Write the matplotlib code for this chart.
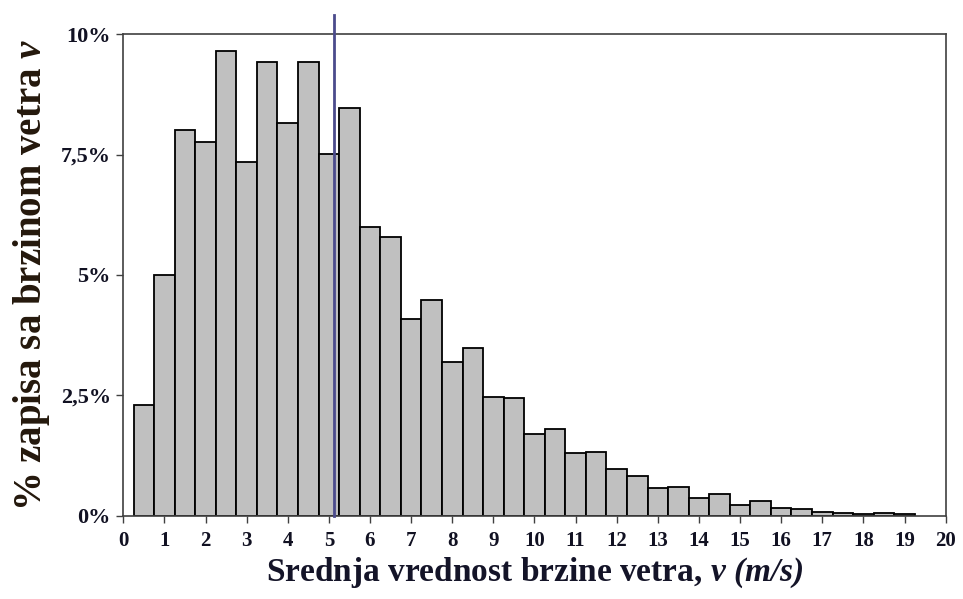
import matplotlib
matplotlib.use('Agg')
import matplotlib.pyplot as plt
from matplotlib.ticker import FuncFormatter

# wind speed bins (m/s) and share of records (%)
speed = [0.5, 1.0, 1.5, 2.0, 2.5, 3.0, 3.5, 4.0, 4.5, 5.0,
         5.5, 6.0, 6.5, 7.0, 7.5, 8.0, 8.5, 9.0, 9.5, 10.0,
         10.5, 11.0, 11.5, 12.0, 12.5, 13.0, 13.5, 14.0, 14.5, 15.0,
         15.5, 16.0, 16.5, 17.0, 17.5, 18.0, 18.5, 19.0]
share = [2.30, 5.00, 8.00, 7.77, 9.64, 7.34, 9.42, 8.15, 9.42, 7.51,
         8.46, 6.00, 5.78, 4.08, 4.48, 3.19, 3.48, 2.47, 2.44, 1.70,
         1.80, 1.30, 1.33, 0.97, 0.82, 0.58, 0.59, 0.37, 0.46, 0.22,
         0.31, 0.17, 0.14, 0.07, 0.06, 0.035, 0.05, 0.035]
mean_speed = 5.12

plt.rcParams['font.family'] = 'Liberation Serif'
plt.rcParams['font.weight'] = 'bold'
plt.rcParams['mathtext.fontset'] = 'custom'
plt.rcParams['mathtext.rm'] = 'Liberation Serif:bold'
plt.rcParams['mathtext.it'] = 'Liberation Serif:italic:bold'
plt.rcParams['mathtext.bf'] = 'Liberation Serif:bold'
plt.rcParams['mathtext.bfit'] = 'Liberation Serif:italic:bold'

fig = plt.figure(figsize=(9.63, 5.99), dpi=100)
ax = fig.add_axes([0.128, 0.139, 0.854, 0.804])

ax.bar(speed, share, width=0.5, color='#c0c0c0', edgecolor='black', linewidth=1.3, zorder=2)
ax.axvline(mean_speed, ymin=0, ymax=1.04, color='#4b4b8c', linewidth=2, clip_on=False, zorder=3)

ax.set_xlim(0, 20)
ax.set_ylim(0, 10)
ax.set_xticks(range(0, 21))
ax.set_yticks([0, 2.5, 5, 7.5, 10])
ax.yaxis.set_major_formatter(FuncFormatter(lambda v, p: ('%g%%' % v).replace('.', ',')))

for s in ax.spines.values():
    s.set_color('#404040')
    s.set_linewidth(1.2)
ax.tick_params(axis='both', direction='out', length=5, width=1, color='#404040',
               labelsize=15, labelcolor='#111122')
ax.tick_params(axis='x', pad=6)
ax.tick_params(axis='y', pad=4, labelsize=16)

ax.set_xlabel('Srednja vrednost brzine vetra, $\\mathbfit{v\\ (m/s)}$',
              fontsize=24, fontweight='bold', color='#141428', labelpad=3)
ax.set_ylabel('% zapisa sa brzinom vetra $\\mathbfit{v}$',
              fontsize=28, fontweight='bold', color='#24180c', labelpad=6)

fig.savefig('out.png', dpi=100)
